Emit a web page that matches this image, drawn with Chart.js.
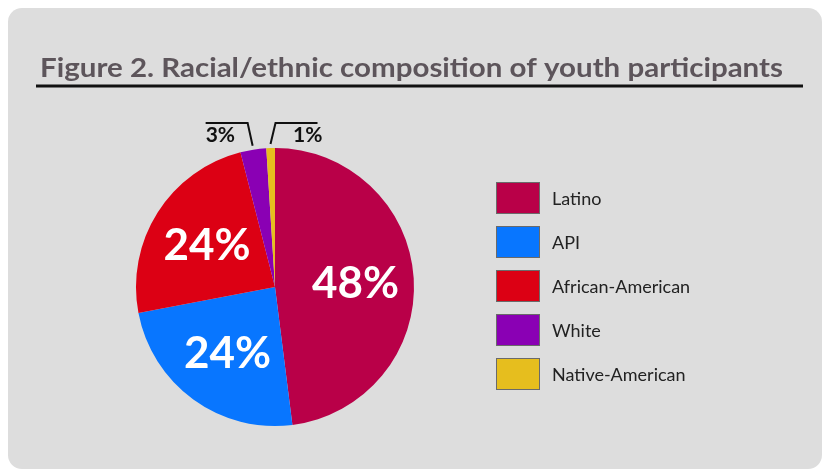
<!DOCTYPE html>
<html>
<head>
<meta charset="utf-8">
<script src="https://cdn.jsdelivr.net/npm/chart.js@4.4.1/dist/chart.umd.min.js"></script>
<style>
  body { margin: 0; background: #ffffff; }
  #graph1 { display: block; }
</style>
</head>
<body>
<canvas id="graph1" width="829" height="470"></canvas>
<script>
var groups = ['Latino', 'API', 'African-American', 'White', 'Native-American'];
var shares = [48, 24, 24, 3, 1];
var colours = ['#b90048', '#0876ff', '#dc0014', '#8a00b4', '#e6be1e'];
var heading = 'Figure 2. Racial/ethnic composition of youth participants';

// grey card, heading and rule behind the pie
var panel = {
    id: 'panel',
    beforeDraw: function (chart) {
        var ctx = chart.ctx;
        ctx.save();
        ctx.fillStyle = '#dddddd';
        ctx.beginPath();
        ctx.roundRect(8, 8, 814, 461, 14);
        ctx.fill();

        ctx.font = 'bold 26px Lato';
        ctx.fillStyle = '#5d555b';
        ctx.textBaseline = 'alphabetic';
        var w = ctx.measureText(heading).width;
        ctx.translate(40, 77);
        ctx.scale(743 / w, 1);
        ctx.fillText(heading, 0, 0);
        ctx.restore();

        ctx.save();
        ctx.fillStyle = '#111111';
        ctx.fillRect(36, 84.5, 767, 3);
        ctx.restore();
    }
};

// percentage labels: inside for big slices, leader lines for small ones
var sliceLabels = {
    id: 'sliceLabels',
    afterDatasetsDraw: function (chart) {
        var ctx = chart.ctx;
        var arcs = chart.getDatasetMeta(0).data;
        var small = 0;
        ctx.save();
        arcs.forEach(function (arc, i) {
            var p = arc.getProps(['x', 'y', 'startAngle', 'endAngle', 'outerRadius'], true);
            var mid = (p.startAngle + p.endAngle) / 2;
            var R = p.outerRadius;
            var text = shares[i] + '%';
            if (shares[i] >= 10) {
                var lx = p.x + Math.cos(mid) * R * 0.58;
                var ly = p.y + Math.sin(mid) * R * 0.58;
                ctx.font = 'bold 44px Lato';
                ctx.fillStyle = '#ffffff';
                ctx.textAlign = 'center';
                ctx.textBaseline = 'alphabetic';
                ctx.fillText(text, lx, ly + 16);
            } else {
                var side = small % 2 === 0 ? -1 : 1;
                small++;
                var sx = p.x + Math.cos(mid) * (R + 4);
                var sy = p.y + Math.sin(mid) * (R + 4);
                var ex = sx + side * 5;
                var ey = p.y - R - 25;
                var endX = ex + side * 42;
                ctx.strokeStyle = '#111111';
                ctx.lineWidth = 2;
                ctx.beginPath();
                ctx.moveTo(sx, sy);
                ctx.lineTo(ex, ey);
                ctx.lineTo(endX, ey);
                ctx.stroke();
                ctx.font = 'bold 21px Lato';
                ctx.fillStyle = '#111111';
                ctx.textBaseline = 'alphabetic';
                if (side < 0) {
                    ctx.textAlign = 'left';
                    ctx.fillText(text, endX, ey + 19);
                } else {
                    ctx.textAlign = 'right';
                    ctx.fillText(text, endX + 5, ey + 19);
                }
            }
        });
        ctx.restore();
    }
};

// legend with large swatches on the right
var swatchLegend = {
    id: 'swatchLegend',
    afterDraw: function (chart) {
        var ctx = chart.ctx;
        ctx.save();
        groups.forEach(function (name, i) {
            var y0 = 182 + i * 44;
            ctx.fillStyle = colours[i];
            ctx.fillRect(496, y0, 44, 32);
            ctx.strokeStyle = '#6a6a6a';
            ctx.lineWidth = 1;
            ctx.strokeRect(496.5, y0 + 0.5, 43, 31);
            ctx.font = '18px Lato';
            ctx.fillStyle = '#222222';
            ctx.textAlign = 'left';
            ctx.textBaseline = 'alphabetic';
            ctx.fillText(name, 552, y0 + 23);
        });
        ctx.restore();
    }
};

var context = document.getElementById('graph1').getContext('2d');
var chart = new Chart(context, {
    type: 'pie',
    data: {
        labels: groups,
        datasets: [
            {
                data: shares,
                backgroundColor: colours,
                borderWidth: 0
            }
        ]
    },
    options: {
        responsive: false,
        animation: false,
        devicePixelRatio: 1,
        layout: {
            padding: { left: 136, top: 148, right: 415, bottom: 44 }
        },
        plugins: {
            legend: { display: false },
            tooltip: { enabled: false }
        }
    },
    plugins: [panel, sliceLabels, swatchLegend]
});
</script>
</body>
</html>
